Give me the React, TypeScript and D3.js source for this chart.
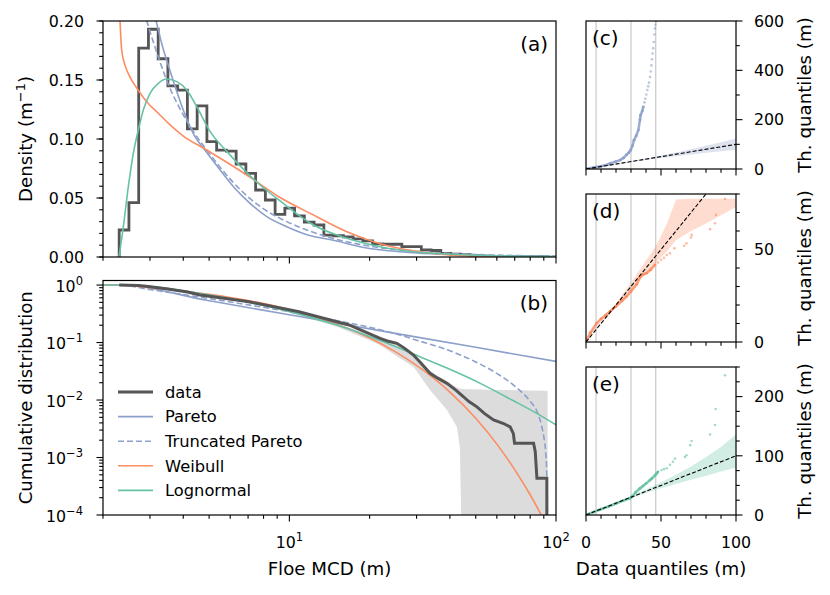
import React from "react";
import * as d3 from "d3";

// ---------------- data ----------------
// (a) histogram of floe MCD (log bins)
const histEdges = [2.300, 2.502, 2.722, 2.961, 3.221, 3.503, 3.811, 4.145, 4.510, 4.906, 5.336, 5.805, 6.315, 6.869, 7.472, 8.128, 8.842, 9.618, 10.46, 11.38, 12.38, 13.47, 14.65, 15.94, 17.34, 18.86, 20.52, 22.32, 24.28, 26.41, 28.73, 31.25, 34.00, 36.98, 40.23, 43.76, 47.61, 51.79, 56.33, 61.28, 66.66, 72.52, 78.88, 85.81, 93.34];
const histDensity = [0.0229, 0.046, 0.177, 0.193, 0.168, 0.145, 0.1415, 0.1085, 0.128, 0.0977, 0.0905, 0.0898, 0.0788, 0.0709, 0.0568, 0.0483, 0.0362, 0.0415, 0.0348, 0.0296, 0.0271, 0.0185, 0.018, 0.017, 0.0153, 0.0136, 0.0112, 0.0108, 0.0108, 0.0088, 0.0088, 0.006, 0.0055, 0.003, 0.0025, 0.002, 0.0012, 0.0008, 0.0005, 0.0004, 0.0003, 0.0003, 0.0002, 0.0002];

// (a) fitted densities
const paretoPdfX = [3.05, 3.18, 3.32, 3.52, 3.73, 4.0, 4.36, 4.9, 5.5, 6.17, 7.12, 8.23, 9.78, 12, 14.2, 20, 30, 40, 60, 100];
const paretoPdfY = [0.212, 0.198, 0.181, 0.162, 0.1443, 0.1246, 0.1048, 0.0885, 0.0737, 0.0596, 0.0455, 0.0342, 0.0257, 0.018, 0.0148, 0.0072, 0.0035, 0.0021, 0.001, 0.0004];
const truncPdfX = [2.85, 2.92, 3.23, 3.52, 3.89, 4.36, 5.04, 6.17, 7.12, 8.23, 9.78, 14.2, 20, 30, 40, 60, 93, 100];
const truncPdfY = [0.208, 0.2, 0.169, 0.146, 0.1255, 0.1065, 0.087, 0.063, 0.0495, 0.039, 0.03, 0.0165, 0.0092, 0.0048, 0.003, 0.0016, 0.0008, 0.0007];
const weibPdfX = [2.317, 2.35, 2.418, 2.526, 2.676, 2.917, 3.225, 3.568, 4.003, 4.898, 6.922, 9.23, 12.31, 16.43, 21.89, 29.2, 38.97, 61.8, 100];
const weibPdfY = [0.2, 0.1754, 0.1627, 0.1525, 0.1432, 0.1316, 0.1218, 0.1119, 0.1025, 0.0907, 0.0695, 0.0504, 0.0356, 0.0214, 0.0113, 0.0052, 0.002, 0.0003, 0.00002];
const lognPdfX = [2.296, 2.384, 2.489, 2.599, 2.713, 2.833, 3.002, 3.225, 3.467, 3.781, 4.122, 4.494, 5.04, 5.824, 6.922, 7.77, 9.23, 12.31, 16.43, 21.89, 29.2, 38.97, 61.8, 100];
const lognPdfY = [0, 0.0257, 0.0596, 0.0879, 0.1076, 0.1246, 0.1387, 0.1472, 0.1508, 0.1486, 0.1415, 0.1274, 0.1065, 0.0895, 0.0715, 0.061, 0.0475, 0.0271, 0.0158, 0.0087, 0.0045, 0.0025, 0.0009, 0.0003];

// (b) cumulative distributions
const ccdfX = [2.3, 2.5, 2.72, 2.96, 3.5, 4.15, 4.62, 5.5, 7.06, 10.87, 16.75, 21.9, 23.5, 25.3, 27, 29.2, 31, 33.7, 36, 39, 42, 45, 47, 50.5, 54, 58.3, 63.6, 67.3, 69.2, 69.9, 82.4, 83.6, 84.8, 92.4, 92.4];
const ccdfY = [1, 0.996, 0.985, 0.945, 0.85, 0.755, 0.67, 0.6, 0.512, 0.343, 0.202, 0.118, 0.105, 0.097, 0.08, 0.0606, 0.045, 0.0291, 0.024, 0.0195, 0.015, 0.0114, 0.0095, 0.0076, 0.0058, 0.0045, 0.0039, 0.0034, 0.0026, 0.00177, 0.00177, 0.00126, 0.000435, 0.000435, 0.00009];
const bandX = [10, 15, 20, 21.9, 25.3, 29.2, 33.7, 39, 42.5, 43.6, 44.1, 44.2, 60, 80, 93];
const bandHi = [0.35, 0.215, 0.14, 0.125, 0.102, 0.066, 0.032, 0.021, 0.0165, 0.0158, 0.0155, 0.0155, 0.015, 0.0147, 0.0145];
const bandLo = [0.33, 0.19, 0.11, 0.09, 0.058, 0.038, 0.0149, 0.0067, 0.0034, 0.0015, 0.0001, 0.00009, 0.00009, 0.00009, 0.00009];
const paretoCdfX = [2, 2.3, 5, 10, 20, 50, 100];
const paretoCdfY = [1, 1, 0.533, 0.304, 0.173, 0.0826, 0.047];
const truncCdfX = [2, 2.3, 3, 4, 5, 7, 10, 15, 20, 25, 30, 40, 50, 60, 70, 80, 85, 88, 90, 91.5, 92.3, 92.8, 92.95];
const truncCdfY = [1, 1, 0.835, 0.683, 0.582, 0.453, 0.343, 0.242, 0.184, 0.142, 0.11, 0.072, 0.046, 0.029, 0.0175, 0.0095, 0.0062, 0.0038, 0.0023, 0.0012, 0.00055, 0.00016, 0.00004];
const weibCdfX = [2, 2.3, 3, 4, 5, 7, 10, 15, 20, 25, 30, 40, 50, 60, 70, 80, 90];
const weibCdfY = [1, 1, 0.9, 0.787, 0.691, 0.539, 0.376, 0.21, 0.1198, 0.0689, 0.04, 0.01373, 0.00482, 0.00171, 0.000617, 0.000225, 0.0000827];
const lognCdfX = [2, 2.3, 2.6, 2.83, 3.0, 3.47, 4.12, 5.04, 5.82, 6.92, 9.23, 12.3, 16.4, 21.9, 29.2, 39, 52, 69, 85, 100];
const lognCdfY = [1, 1, 0.987, 0.962, 0.941, 0.875, 0.781, 0.67, 0.597, 0.51, 0.378, 0.266, 0.178, 0.108, 0.063, 0.036, 0.0195, 0.0098, 0.0058, 0.0037];

// (c)-(e) quantile-quantile
const qqVLines = [6.7, 30, 46.5];
const qqParetoDenseX = [0.5, 5, 10, 14, 16, 20, 22.7, 25, 27, 28.5, 29.8, 31, 32, 33.5, 34.9, 36, 36.4, 37.5, 38.2];
const qqParetoDenseY = [0.5, 5.5, 11, 17, 22, 30, 36, 45, 57, 66, 77, 95, 117, 135, 158, 200, 218, 235, 252];
const qqParetoSparseX = [39, 39.5, 40.2, 40.9, 41.5, 42, 42.7, 43.2, 43.6, 44, 44.4, 44.8, 45.2, 45.6, 46, 46.3, 46.7];
const qqParetoSparseY = [270, 285, 302, 320, 335, 350, 373, 395, 420, 445, 468, 490, 515, 545, 570, 585, 598];
const qqParetoBandX = [0, 10, 20, 30, 40, 50, 60, 70, 80, 90, 100];
const qqParetoBandLo = [0, 9.5, 19, 28, 37, 45, 52, 59, 66, 72, 78];
const qqParetoBandHi = [0, 10.5, 21, 32, 43, 55, 67, 80, 94, 108, 124];

const qqWeibDenseX = [0.5, 3, 7, 10, 13, 16, 20, 24, 27, 30, 33.8, 36, 38, 40.4, 43, 46];
const qqWeibDenseY = [1, 5, 10, 12.5, 14.5, 16.5, 19.3, 22.3, 24.6, 27.5, 31.2, 35, 36.5, 37.2, 39, 41.7];
const qqWeibSparseX = [48, 50, 52, 53.8, 56, 59, 65.5, 67, 70, 70.4, 82.7, 86, 86.7, 92.7];
const qqWeibSparseY = [43, 44.5, 45.5, 47, 48, 50.7, 52, 53.4, 56.5, 57.9, 61, 64.2, 68.7, 77.3];
const qqWeibBandX = [0, 10, 20, 30, 40, 47, 54, 60, 70, 80, 90, 100];
const qqWeibBandLo = [0, 9.5, 19, 28.5, 37, 43.5, 49, 55, 60, 64, 68.5, 73];
const qqWeibBandHi = [0, 10.5, 21, 32, 44, 52.5, 64, 77, 77.5, 77.5, 77.5, 77.5];

const qqLognDenseX = [0.5, 5, 10, 15, 20, 25, 29.3, 31, 33, 36, 38, 40, 42.7, 44, 46, 47, 48];
const qqLognDenseY = [0.5, 5, 9.8, 14.5, 19.5, 24.5, 28, 32, 38, 45, 49, 53, 59, 62, 67, 70, 73];
const qqLognSparseX = [50.4, 52, 53.8, 56, 58, 59.3, 66, 67, 69.5, 70.4, 82.7, 86, 86.4, 92.7];
const qqLognSparseY = [76, 77.5, 79, 85, 90, 95.5, 98, 101, 118, 125, 136, 152, 179, 236];
const qqLognBandX = [0, 10, 20, 30, 40, 50, 60, 70, 80, 90, 100];
const qqLognBandLo = [0, 9.7, 19.3, 28.5, 37, 45, 52.5, 59.5, 66.5, 73.5, 80];
const qqLognBandHi = [0, 10.3, 20.8, 32, 43.5, 55, 68, 82, 98, 115, 136];

const legendLabels = ["data", "Pareto", "Truncated Pareto", "Weibull", "Lognormal"];

// ---------------- layout / style ----------------
const FONT = "'DejaVu Sans', sans-serif";
const C_PARETO = "#8da0cb";
const C_WEIB = "#fc8d62";
const C_LOGN = "#66c2a5";
const C_DATA = "#555555";
const TICK_FS = 15.8;
const LABEL_FS = 18.2;
const MAJ = 6.5;
const MIN = 3.8;

const A = { l: 103, r: 556, t: 21, b: 257 };
const B = { l: 103, r: 556, t: 280.5, b: 515 };
const QL = 586, QR = 736;

const x = d3.scaleLog().domain([2, 100]).range([A.l, A.r]);
const yA = d3.scaleLinear().domain([0, 0.2]).range([A.b, A.t]);
const yB = d3.scaleLog().domain([1e-4, 1.2]).range([B.b, B.t]);
const xq = d3.scaleLinear().domain([0, 100]).range([QL, QR]);

type P = [number, number];
const zip = (xs: number[], ys: number[]): P[] => xs.map((v, i) => [v, ys[i]] as P);

const lineA = d3.line<P>().x(d => x(d[0])).y(d => yA(d[1])).curve(d3.curveMonotoneX);
const lineALin = d3.line<P>().x(d => x(d[0])).y(d => yA(d[1]));
const lineB = d3.line<P>().x(d => x(d[0])).y(d => yB(d[1])).curve(d3.curveMonotoneX);
const lineBLin = d3.line<P>().x(d => x(d[0])).y(d => yB(d[1]));

const logMinor = [2, 3, 4, 5, 6, 7, 8, 9, 20, 30, 40, 50, 60, 70, 80, 90];
const logMajor = [10, 100];

function histPoints(): P[] {
  const pts: P[] = [[histEdges[0], 0]];
  histDensity.forEach((d, i) => {
    pts.push([histEdges[i], d]);
    pts.push([histEdges[i + 1], d]);
  });
  pts.push([histEdges[histEdges.length - 1], 0]);
  return pts;
}

const Pow = ({ px, py, exp, anchor }: { px: number; py: number; exp: string; anchor: string }) => (
  <text x={px} y={py} textAnchor={anchor} fontSize={TICK_FS}>
    10<tspan dy={-7} fontSize={11.5}>{exp}</tspan>
  </text>
);

function XLogTicks({ bottom, labels }: { bottom: number; labels: boolean }) {
  return (
    <g stroke="#000" strokeWidth={1.1}>
      {logMinor.map(v => <line key={"m" + v} x1={x(v)} x2={x(v)} y1={bottom} y2={bottom + MIN} />)}
      {logMajor.map(v => <line key={"M" + v} x1={x(v)} x2={x(v)} y1={bottom} y2={bottom + MAJ} />)}
      {labels && (
        <g stroke="none" fill="#000">
          <Pow px={x(10)} py={bottom + 33} exp="1" anchor="middle" />
          <Pow px={x(100)} py={bottom + 33} exp="2" anchor="middle" />
        </g>
      )}
    </g>
  );
}

function QQPanel(props: {
  top: number; bottom: number; yMax: number; yMajor: number[]; yMinor: number[];
  color: string; denseX: number[]; denseY: number[]; sparseX: number[]; sparseY: number[];
  bX: number[]; bLo: number[]; bHi: number[]; label: string; showX: boolean; id: string;
}) {
  const { top, bottom, yMax, color } = props;
  const y = d3.scaleLinear().domain([0, yMax]).range([bottom, top]);
  const area = d3.area<number>()
    .x((_, i) => xq(props.bX[i]))
    .y0((_, i) => y(props.bLo[i]))
    .y1((_, i) => y(props.bHi[i]));
  const dense = zip(props.denseX, props.denseY);
  const sparse = zip(props.sparseX, props.sparseY);
  const ln = d3.line<P>().x(d => xq(d[0])).y(d => y(d[1]));
  const xMinor = [10, 20, 30, 40, 60, 70, 80, 90];
  const xMajor = [0, 50, 100];
  return (
    <g>
      <defs>
        <clipPath id={props.id}>
          <rect x={QL} y={top} width={QR - QL} height={bottom - top} />
        </clipPath>
      </defs>
      <g clipPath={`url(#${props.id})`}>
        {qqVLines.map(v => (
          <line key={v} x1={xq(v)} x2={xq(v)} y1={top} y2={bottom} stroke="#c4c4c4" strokeWidth={1.1} />
        ))}
        <path d={area(props.bX) || ""} fill={color} fillOpacity={0.3} />
        <path d={ln(dense) || ""} fill="none" stroke={color} strokeWidth={2.6} strokeOpacity={0.85} />
        {dense.map((d, i) => <circle key={"d" + i} cx={xq(d[0])} cy={y(d[1])} r={1.4} fill={color} />)}
        {sparse.map((d, i) => <circle key={"s" + i} cx={xq(d[0])} cy={y(d[1])} r={1.3} fill={color} fillOpacity={0.6} />)}
        <path d={ln([[0, 0], [100, 100]]) || ""} fill="none" stroke="#000" strokeWidth={1.1} strokeDasharray="4,2" />
      </g>
      <rect x={QL} y={top} width={QR - QL} height={bottom - top} fill="none" stroke="#000" strokeWidth={1.2} />
      <g stroke="#000" strokeWidth={1.1}>
        {xMinor.map(v => <line key={"xm" + v} x1={xq(v)} x2={xq(v)} y1={bottom} y2={bottom + MIN} />)}
        {xMajor.map(v => <line key={"xM" + v} x1={xq(v)} x2={xq(v)} y1={bottom} y2={bottom + MAJ} />)}
        {props.yMinor.map(v => <line key={"ym" + v} x1={QR} x2={QR + MIN} y1={y(v)} y2={y(v)} />)}
        {props.yMajor.map(v => <line key={"yM" + v} x1={QR} x2={QR + MAJ} y1={y(v)} y2={y(v)} />)}
      </g>
      {props.yMajor.map(v => (
        <text key={"yl" + v} x={754} y={y(v) + 5.7} fontSize={TICK_FS}>{v}</text>
      ))}
      {props.showX && xMajor.map(v => (
        <text key={"xl" + v} x={xq(v)} y={bottom + 33} textAnchor="middle" fontSize={TICK_FS}>{v}</text>
      ))}
      <text x={592} y={top + 24} fontSize={20}>{props.label}</text>
      <text transform={`translate(811,${(top + bottom) / 2}) rotate(-90)`} textAnchor="middle" fontSize={LABEL_FS}>
        Th. quantiles (m)
      </text>
    </g>
  );
}

export default function App() {
  const yAMinor = d3.range(0, 21).map(i => i / 100);
  const yAMajor = [0, 0.05, 0.1, 0.15, 0.2];
  const yBMajor = [1e-4, 1e-3, 1e-2, 1e-1, 1];
  const yBMinor: number[] = [];
  yBMajor.slice(0, 4).forEach(d => [2, 3, 4, 5, 6, 7, 8, 9].forEach(m => yBMinor.push(d * m)));
  const bandArea = d3.area<number>()
    .x((_, i) => x(bandX[i]))
    .y0((_, i) => yB(bandLo[i]))
    .y1((_, i) => yB(bandHi[i]));
  const legendColors = [C_DATA, C_PARETO, C_PARETO, C_WEIB, C_LOGN];

  return (
    <svg width={830} height={595} style={{ position: "absolute", left: 0, top: 0, background: "#fff" }}
      fontFamily={FONT} fill="#000">
      <defs>
        <clipPath id="clipA"><rect x={A.l} y={A.t} width={A.r - A.l} height={A.b - A.t} /></clipPath>
        <clipPath id="clipB"><rect x={B.l} y={B.t} width={B.r - B.l} height={B.b - B.t} /></clipPath>
      </defs>

      {/* ---------- (a) density ---------- */}
      <g clipPath="url(#clipA)" fill="none">
        <path d={lineALin(histPoints()) || ""} stroke={C_DATA} strokeWidth={2.8} strokeLinejoin="miter" />
        <path d={lineA(zip(paretoPdfX, paretoPdfY)) || ""} stroke={C_PARETO} strokeWidth={1.6} />
        <path d={lineA(zip(truncPdfX, truncPdfY)) || ""} stroke={C_PARETO} strokeWidth={1.6} strokeDasharray="6,3" />
        <path d={lineA(zip(weibPdfX, weibPdfY)) || ""} stroke={C_WEIB} strokeWidth={1.6} />
        <path d={lineA(zip(lognPdfX, lognPdfY)) || ""} stroke={C_LOGN} strokeWidth={1.6} />
      </g>
      <rect x={A.l} y={A.t} width={A.r - A.l} height={A.b - A.t} fill="none" stroke="#000" strokeWidth={1.2} />
      <g stroke="#000" strokeWidth={1.1}>
        {yAMinor.map(v => <line key={"am" + v} x1={A.l - MIN} x2={A.l} y1={yA(v)} y2={yA(v)} />)}
        {yAMajor.map(v => <line key={"aM" + v} x1={A.l - MAJ} x2={A.l} y1={yA(v)} y2={yA(v)} />)}
      </g>
      {yAMajor.map(v => (
        <text key={"al" + v} x={84} y={yA(v) + 5.7} textAnchor="end" fontSize={TICK_FS}>{d3.format(".2f")(v)}</text>
      ))}
      <XLogTicks bottom={A.b} labels={false} />
      <text x={548} y={51} textAnchor="end" fontSize={20}>(a)</text>
      <text transform={`translate(32,${(A.t + A.b) / 2}) rotate(-90)`} textAnchor="middle" fontSize={LABEL_FS}>
        Density (m<tspan dy={-7} fontSize={13}>−1</tspan><tspan dy={7}>)</tspan>
      </text>

      {/* ---------- (b) cumulative ---------- */}
      <g clipPath="url(#clipB)" fill="none">
        <path d={bandArea(bandX) || ""} fill="#dcdcdc" stroke="none" />
        <path d={lineB(zip(paretoCdfX, paretoCdfY)) || ""} stroke={C_PARETO} strokeWidth={1.6} />
        <path d={lineB(zip(truncCdfX, truncCdfY)) || ""} stroke={C_PARETO} strokeWidth={1.6} strokeDasharray="6,3" />
        <path d={lineB(zip(weibCdfX, weibCdfY)) || ""} stroke={C_WEIB} strokeWidth={1.6} />
        <path d={lineB(zip(lognCdfX, lognCdfY)) || ""} stroke={C_LOGN} strokeWidth={1.6} />
        <path d={lineBLin(zip(ccdfX, ccdfY)) || ""} stroke={C_DATA} strokeWidth={3} />
      </g>
      <rect x={B.l} y={B.t} width={B.r - B.l} height={B.b - B.t} fill="none" stroke="#000" strokeWidth={1.2} />
      <g stroke="#000" strokeWidth={1.1}>
        {yBMinor.map(v => <line key={"bm" + v} x1={B.l - MIN} x2={B.l} y1={yB(v)} y2={yB(v)} />)}
        {yBMajor.map(v => <line key={"bM" + v} x1={B.l - MAJ} x2={B.l} y1={yB(v)} y2={yB(v)} />)}
      </g>
      {yBMajor.map(v => (
        <Pow key={"bl" + v} px={83} py={yB(v) + 6.5} exp={v === 1 ? "0" : "−" + Math.round(-Math.log10(v))} anchor="end" />
      ))}
      <XLogTicks bottom={B.b} labels={true} />
      <text x={548} y={310} textAnchor="end" fontSize={20}>(b)</text>
      <text transform={`translate(32,${(B.t + B.b) / 2}) rotate(-90)`} textAnchor="middle" fontSize={LABEL_FS}>
        Cumulative distribution
      </text>
      <text x={(A.l + A.r) / 2} y={575} textAnchor="middle" fontSize={LABEL_FS}>Floe MCD (m)</text>

      {/* legend */}
      {legendLabels.map((lab, i) => {
        const ly = 392 + i * 24.6;
        return (
          <g key={lab}>
            <line x1={118} x2={153} y1={ly} y2={ly} stroke={legendColors[i]}
              strokeWidth={i === 0 ? 3 : 1.6} strokeDasharray={i === 2 ? "6,3" : undefined} />
            <text x={165} y={ly + 5.8} fontSize={16.3}>{lab}</text>
          </g>
        );
      })}

      {/* ---------- (c)-(e) QQ ---------- */}
      <QQPanel id="clipC" top={21} bottom={169} yMax={600} yMajor={[0, 200, 400, 600]} yMinor={[100, 300, 500]}
        color={C_PARETO} denseX={qqParetoDenseX} denseY={qqParetoDenseY} sparseX={qqParetoSparseX} sparseY={qqParetoSparseY}
        bX={qqParetoBandX} bLo={qqParetoBandLo} bHi={qqParetoBandHi} label="(c)" showX={false} />
      <QQPanel id="clipD" top={194} bottom={342} yMax={80} yMajor={[0, 50]} yMinor={[10, 20, 30, 40, 60, 70, 80]}
        color={C_WEIB} denseX={qqWeibDenseX} denseY={qqWeibDenseY} sparseX={qqWeibSparseX} sparseY={qqWeibSparseY}
        bX={qqWeibBandX} bLo={qqWeibBandLo} bHi={qqWeibBandHi} label="(d)" showX={false} />
      <QQPanel id="clipE" top={367} bottom={515} yMax={250} yMajor={[0, 100, 200]} yMinor={[25, 50, 75, 125, 150, 175, 225, 250]}
        color={C_LOGN} denseX={qqLognDenseX} denseY={qqLognDenseY} sparseX={qqLognSparseX} sparseY={qqLognSparseY}
        bX={qqLognBandX} bLo={qqLognBandLo} bHi={qqLognBandHi} label="(e)" showX={true} />
      <text x={(QL + QR) / 2} y={575} textAnchor="middle" fontSize={LABEL_FS}>Data quantiles (m)</text>
    </svg>
  );
}
